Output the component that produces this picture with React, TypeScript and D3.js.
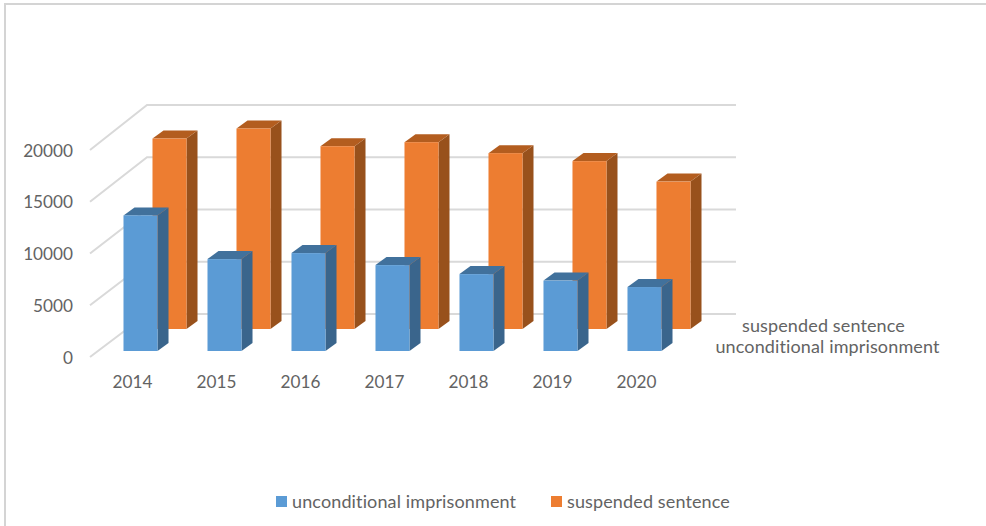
import React from "react";
import * as d3 from "d3";

const years = ["2014", "2015", "2016", "2017", "2018", "2019", "2020"];
const unconditionalImprisonment = [13100, 8880, 9460, 8300, 7430, 6800, 6180];
const suspendedSentence = [18400, 19370, 17660, 18050, 16990, 16220, 14240];
const valueTicks = [0, 5000, 10000, 15000, 20000];
const seriesNames = ["unconditional imprisonment", "suspended sentence"];

const FONT = "Lato, 'Open Sans', sans-serif";
const TEXT = "#636363";
const GRID = "#d9d9d9";

// Oblique projection: the axis sits on the front edge of the floor, the gridlines
// run back to the rear wall, and the two bar rows stand at different depths.
const yFront = d3.scaleLinear().domain([0, 20000]).range([357, 150]);
const yBack = d3.scaleLinear().domain([0, 20000]).range([314, 105]);
const x = d3.scaleBand<string>().domain(years).range([98.5, 686.5]).paddingInner(0.595).paddingOuter(0.2976);
const FRONT_X = 90;
const BACK_X = 147;
const BACK_RIGHT = 736;
const BAR_DX = 11;
const BAR_DY = -8;

type BarProps = { x0: number; top: number; base: number; w: number; front: string; side: string; cap: string };

function Bar3D({ x0, top, base, w, front, side, cap }: BarProps) {
  const x1 = x0 + w;
  const poly = d3.line();
  return (
    <g>
      <path d={poly([[x1, top], [x1 + BAR_DX, top + BAR_DY], [x1 + BAR_DX, base + BAR_DY], [x1, base]]) + "Z"} fill={side} />
      <path d={poly([[x0, top], [x0 + BAR_DX, top + BAR_DY], [x1 + BAR_DX, top + BAR_DY], [x1, top]]) + "Z"} fill={cap} />
      <rect x={x0} y={top} width={w} height={base - top} fill={front} />
    </g>
  );
}

export default function App() {
  const w = x.bandwidth();
  const blueShift = { dx: 0, dy: -6 };
  const orangeShift = { dx: 29, dy: -28 };
  const zero = yFront(0);
  const tickLabel = { fontFamily: FONT, fontSize: 17.2, fill: TEXT };
  const nameLabel = { fontFamily: FONT, fontSize: 18, letterSpacing: 0.13, fill: TEXT };
  return (
    <svg
      width={986}
      height={526}
      viewBox="0 0 986 526"
      style={{ position: "absolute", left: 0, top: 0, background: "#fff" }}
    >
      <path d="M5 526V4H986" fill="none" stroke="#d4d4d4" strokeWidth={2} />

      {valueTicks.map((t) => (
        <g key={t}>
          <path
            d={`M${FRONT_X} ${yFront(t)}L${BACK_X} ${yBack(t)}H${BACK_RIGHT}`}
            fill="none"
            stroke={GRID}
            strokeWidth={2}
          />
          <text x={73} y={yFront(t) + 6.5} textAnchor="end" {...tickLabel}>{t}</text>
        </g>
      ))}

      {years.map((yr, i) => (
        <Bar3D
          key={yr}
          x0={x(yr)! + orangeShift.dx}
          top={yFront(suspendedSentence[i]) + orangeShift.dy}
          base={zero + orangeShift.dy}
          w={w}
          front="#ed7d31"
          side="#98511c"
          cap="#b35d1f"
        />
      ))}
      {years.map((yr, i) => (
        <Bar3D
          key={yr}
          x0={x(yr)! + blueShift.dx}
          top={yFront(unconditionalImprisonment[i]) + blueShift.dy}
          base={zero + blueShift.dy}
          w={w}
          front="#5b9bd5"
          side="#3a658c"
          cap="#41719c"
        />
      ))}

      {years.map((yr) => (
        <text key={yr} x={x(yr)! + w / 2 - 8} y={388} textAnchor="middle" {...tickLabel}>{yr}</text>
      ))}

      <text x={823.5} y={332} textAnchor="middle" {...nameLabel}>{seriesNames[1]}</text>
      <text x={827.5} y={353} textAnchor="middle" {...nameLabel}>{seriesNames[0]}</text>

      <rect x={276} y={496} width={11} height={11} fill="#5b9bd5" />
      <text x={292} y={508} {...nameLabel}>{seriesNames[0]}</text>
      <rect x={551} y={496} width={11} height={11} fill="#ed7d31" />
      <text x={567} y={508} {...nameLabel}>{seriesNames[1]}</text>
    </svg>
  );
}
